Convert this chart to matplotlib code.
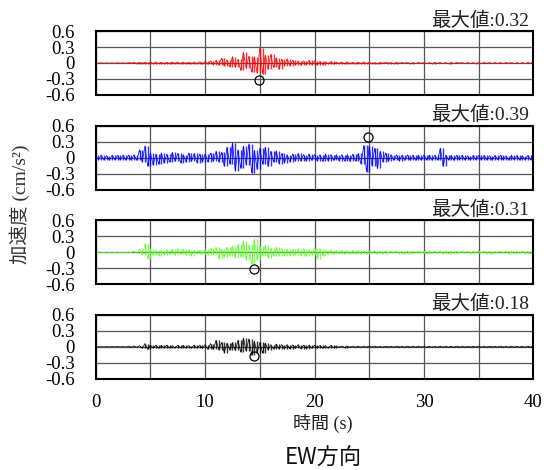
import numpy as np
import matplotlib
matplotlib.use('Agg')
import matplotlib.pyplot as plt

dt = 0.25

red_wave = [
    .003, -.003, .004, -.003,  .004, -.004, .003, -.005,  .005, -.004, .006, -.005,
    .010, -.008, .012, -.010,  .012, -.010, .015, -.012,  .018, -.015, .020, -.016,
    .015, -.020, .017, -.014,  .016, -.013, .020, -.018,  .015, -.017, .014, -.016,
    .020, -.018, .025, -.020,  .030, -.025, .040, -.035,  .050, -.040, .090, -.060,
    .060, -.070, .120, -.080,  .070, -.140, .200, -.100,  .130, -.170, .120, -.190,
    .280, -.200, .150, -.120,  .160, -.080, .100, -.120,  .070, -.050, .080, -.050,
    .050, -.040, .040, -.045,  .040, -.035, .050, -.030,  .040, -.040, .030, -.030,
    .025, -.020, .030, -.025,  .020, -.015, .020, -.020,  .020, -.020, .015, -.018,
    .015, -.012, .020, -.015,  .010, -.012, .008, -.010,  .010, -.008, .012, -.010,
    .008, -.010, .010, -.009,  .010, -.008, .009, -.010,  .008, -.009, .010, -.008,
    .009, -.008, .008, -.010,  .010, -.009, .008, -.008,  .008, -.010, .009, -.008,
    .010, -.008, .008, -.009,  .008, -.008, .009, -.010,  .009, -.008, .010, -.008,
    .008, -.009, .008, -.008,  .009, -.008, .010, -.009,  .008, -.008, .008, -.009,
    .009, -.008, .010, -.008,
    .008,
]

blue_wave = [
    .045, -.040, .050, -.045,  .040, -.045, .050, -.040,  .045, -.040, .050, -.045,
    .050, -.045, .060, -.050,  .150, -.080, .220, -.160,  .090, -.140, .070, -.120,
    .090, -.100, .070, -.080,  .100, -.070, .080, -.090,  .060, -.080, .090, -.070,
    .080, -.090, .070, -.080,  .070, -.080, .090, -.070,  .120, -.080, .100, -.160,
    .200, -.120, .280, -.240,  .150, -.200, .220, -.130,  .260, -.280, .140, -.220,
    .180, -.120, .200, -.160,  .120, -.080, .130, -.110,  .080, -.090, .060, -.080,
    .070, -.060, .080, -.060,  .060, -.060, .070, -.050,  .060, -.060, .060, -.070,
    .070, -.060, .060, -.050,  .060, -.060, .060, -.060,  .060, -.070, .070, -.060,
    .080, -.120, .230, -.260,  .220, -.150, .180, -.200,  .120, -.080, .090, -.070,
    .060, -.050, .055, -.060,  .050, -.050, .055, -.050,  .050, -.050, .045, -.050,
    .050, -.045, .050, -.050,  .050, -.045, .180, -.160,  .050, -.045, .045, -.050,
    .045, -.040, .050, -.045,  .040, -.045, .045, -.040,  .045, -.040, .045, -.045,
    .040, -.045, .045, -.040,  .045, -.040, .040, -.045,  .045, -.040, .045, -.045,
    .040, -.045, .045, -.040,
    .040,
]

green_wave = [
    .004, -.004, .005, -.004,  .004, -.005, .004, -.004,  .005, -.004, .004, -.005,
    .005, -.005, .030, -.020,  .060, -.050, .160, -.120,  .060, -.050, .040, -.060,
    .040, -.050, .050, -.040,  .060, -.050, .070, -.040,  .060, -.050, .050, -.060,
    .040, -.030, .040, -.040,  .060, -.050, .080, -.040,  .100, -.120, .060, -.080,
    .100, -.060, .120, -.100,  .150, -.080, .220, -.140,  .140, -.220, .250, -.150,
    .120, -.060, .130, -.110,  .080, -.070, .100, -.060,  .070, -.060, .060, -.070,
    .060, -.050, .070, -.060,  .060, -.060, .050, -.050,  .080, -.120, .070, -.060,
    .040, -.040, .050, -.040,  .035, -.030, .040, -.035,  .030, -.035, .040, -.030,
    .035, -.030, .030, -.035,  .025, -.020, .025, -.025,  .020, -.025, .025, -.020,
    .025, -.020, .025, -.025,  .020, -.025, .020, -.025,  .025, -.020, .025, -.020,
    .020, -.025, .025, -.020,  .025, -.020, .025, -.025,  .020, -.025, .020, -.025,
    .025, -.020, .025, -.020,  .020, -.025, .025, -.020,  .025, -.020, .025, -.025,
    .020, -.025, .020, -.020,  .025, -.020, .025, -.025,  .020, -.025, .020, -.020,
    .025, -.025, .020, -.025,
    .020,
]

black_wave = [
    .003, -.003, .003, -.003,  .003, -.003, .004, -.003,  .004, -.003, .004, -.004,
    .010, -.010, .015, -.012,  .020, -.030, .060, -.050,  .030, -.025, .030, -.030,
    .025, -.020, .030, -.025,  .020, -.025, .030, -.020,  .025, -.030, .020, -.025,
    .030, -.025, .025, -.030,  .040, -.050, .060, -.050,  .120, -.060, .080, -.110,
    .070, -.060, .080, -.070,  .120, -.100, .160, -.080,  .150, -.160, .100, -.120,
    .080, -.120, .070, -.060,  .040, -.040, .050, -.040,  .040, -.035, .040, -.040,
    .035, -.030, .040, -.035,  .030, -.035, .030, -.030,  .030, -.025, .025, -.030,
    .020, -.025, .025, -.020,  .015, -.012, .012, -.015,  .012, -.010, .012, -.012,
    .010, -.012, .012, -.010,  .010, -.010, .012, -.010,  .010, -.012, .010, -.010,
    .010, -.010, .012, -.010,  .010, -.010, .010, -.012,  .012, -.010, .010, -.010,
    .010, -.012, .010, -.010,  .010, -.010, .012, -.010,  .010, -.010, .010, -.012,
    .012, -.010, .010, -.010,  .010, -.012, .010, -.010,  .010, -.010, .012, -.010,
    .010, -.010, .010, -.010,  .012, -.010, .010, -.010,  .010, -.010, .010, -.010,
    .010, -.012, .010, -.010,
    .010,
]

waves = [red_wave, blue_wave, green_wave, black_wave]
colors = ['#ff0000', '#0000ff', '#66ff33', '#000000']
max_labels = ['最大値:0.32', '最大値:0.39', '最大値:0.31', '最大値:0.18']
peak_times = [14.9, 24.9, 14.5, 14.5]
peak_values = [-0.32, 0.39, -0.31, -0.18]

y_ticks = [0.6, 0.3, 0, -0.3, -0.6]
y_ticklabels = ['0.6', '0.3', '0', '-0.3', '-0.6']
x_ticks = [0, 5, 10, 15, 20, 25, 30, 35, 40]
x_ticklabels = ['0', '', '10', '', '20', '', '30', '', '40']

serif = ['Liberation Serif', 'Noto Sans CJK JP']

fig = plt.figure(figsize=(5.44, 4.70), dpi=100)

left, width, height = 0.176, 0.8044, 0.136
bottoms = [0.798, 0.5964, 0.3951, 0.1943]

for i, wave in enumerate(waves):
    ax = fig.add_axes([left, bottoms[i], width, height])
    t = np.arange(len(wave)) * dt
    w = np.array(wave)
    # vertical strokes between consecutive samples, plus the trace itself
    ax.vlines(t[1:], w[:-1], w[1:], color=colors[i], lw=1.0, alpha=0.8, zorder=3)
    ax.plot(t, w, color=colors[i], lw=0.5, zorder=3)
    ax.plot(peak_times[i], peak_values[i], 'o', mfc='none', mec='black',
            ms=6.5, mew=0.9, zorder=4)
    ax.set_xlim(0, 40)
    ax.set_ylim(-0.6, 0.6)
    ax.set_yticks(y_ticks)
    ax.set_yticklabels(y_ticklabels, fontfamily=serif, fontsize=13.5)
    ax.set_xticks(x_ticks)
    if i == 3:
        ax.set_xticklabels(x_ticklabels, fontfamily=serif, fontsize=13.5)
    else:
        ax.set_xticklabels([])
    ax.tick_params(length=0, pad=11)
    ax.tick_params(axis='y', pad=15)
    ax.grid(True, color='#555555', lw=0.9, zorder=1)
    for sp in ax.spines.values():
        sp.set_linewidth(1.5)
        sp.set_zorder(5)
    ax.text(0.99, 1.02, max_labels[i], transform=ax.transAxes, ha='right',
            va='bottom', fontsize=14, family=serif, color='#222222')

fig.text(20 / 544, 1 - 204 / 470, '加速度 (cm/s²)', rotation=90, ha='center',
         va='center', fontsize=14, family=serif, color='#333333')
fig.text(323 / 544, 1 - 423 / 470, '時間 (s)', ha='center', va='center',
         fontsize=13, family=serif, color='#222222')
fig.text(323 / 544, 1 - 458 / 470, 'EW方向', ha='center', va='center',
         fontsize=16, family=['Noto Sans CJK JP'], color='#111111')

fig.savefig('out.png', dpi=100)
